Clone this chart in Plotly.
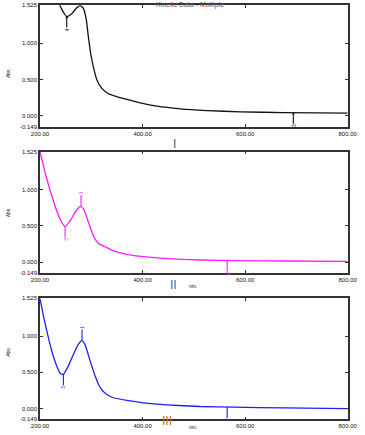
import plotly.graph_objects as go

# ---------------- data ----------------
wl_I = [225, 232, 239.1, 245.6, 252.1, 261.9, 271.7, 278.2, 284.8, 290, 294.5, 299.1, 304.3,
        310.8, 320.6, 333.6, 346.6, 369.4, 395.5, 428.1, 473.7, 525.8, 591, 675.6, 800]
abs_I = [1.80, 1.65, 1.52, 1.43, 1.37, 1.41, 1.49, 1.52, 1.48, 1.34, 1.08, 0.85, 0.67,
         0.50, 0.38, 0.306, 0.273, 0.227, 0.18, 0.134, 0.097, 0.074, 0.056, 0.046, 0.037]

wl_II = [200, 206.5, 213, 222.8, 232.6, 242.4, 248.9, 258.7, 268.5, 278.2, 284.8, 294.5, 304.3,
         314.1, 330.3, 343.3, 369.4, 402, 447.6, 512.7, 577.9, 675.6, 800]
abs_II = [1.525, 1.34, 1.155, 0.92, 0.71, 0.55, 0.49, 0.57, 0.69, 0.77, 0.735, 0.55, 0.36,
          0.256, 0.20, 0.154, 0.107, 0.074, 0.047, 0.028, 0.019, 0.014, 0.010]

wl_III = [200, 206.5, 213, 222.8, 232.6, 240.4, 245.6, 255.4, 265.2, 275, 281.4, 288, 297.7,
          307.5, 317.3, 330.3, 343.3, 369.4, 402, 447.6, 512.7, 577.9, 675.6, 800]
abs_III = [1.52, 1.29, 1.08, 0.80, 0.59, 0.48, 0.474, 0.59, 0.75, 0.89, 0.94, 0.88, 0.66,
           0.45, 0.29, 0.195, 0.149, 0.112, 0.079, 0.051, 0.028, 0.019, 0.009, 0.0]

# peak / valley picks: (wavelength, absorbance, label, direction)
peaks_I = [(252.1, 1.37, "4", "down"), (694, 0.045, "3", "down")]
peaks_II = [(280, 0.77, "1", "up"), (248.9, 0.49, "3", "down"), (565, 0.02, "2", "down")]
peaks_III = [(282, 0.94, "1", "up"), (245.6, 0.474, "3", "down"), (565, 0.022, "2", "down")]

x_ticks = [200, 400, 600, 800]
x_ticktext = ["200.00", "400.00", "600.00", "800.00"]
y_ticks = [-0.149, 0.0, 0.5, 1.0, 1.525]
y_ticktext = ["-0.149", "0.000", "0.500", "1.000", "1.525"]

panel_names = ["I", "II", "III"]
panel_name_colors = ["#1f6fb4", "#1f6fb4", "#b8741a"]
colors = ["#111111", "#ff1aff", "#1e1eff"]

W, H = 365, 435
FONT = "Liberation Sans, Arial, sans-serif"

def py(p):
    return 1 - p / H

domains = [(py(126.7), py(5.3)), (py(272.8), py(151.7)), (py(419.3), py(298.3))]
xdom = [40 / W, 347.7 / W]

fig = go.Figure()
series = [(wl_I, abs_I), (wl_II, abs_II), (wl_III, abs_III)]
peaks = [peaks_I, peaks_II, peaks_III]

annotations = []
for i, ((wx, wy), col) in enumerate(zip(series, colors)):
    sfx = "" if i == 0 else str(i + 1)
    fig.add_trace(go.Scatter(x=wx, y=wy, mode="lines", line=dict(color=col, width=1.3, shape="spline", smoothing=0.5),
                             xaxis="x" + sfx, yaxis="y" + sfx, showlegend=False, hoverinfo="skip"))
    for (px_, pv, lab, d) in peaks[i]:
        annotations.append(dict(x=px_, y=pv, xref="x" + sfx, yref="y" + sfx, text=lab,
                                textangle=-90, showarrow=True, arrowhead=1 if (i == 0) else 0,
                                arrowsize=0.5, arrowwidth=1.1, arrowcolor=col, ax=0,
                                ay=(-13 if d == "up" else 13), borderpad=0,
                                font=dict(size=5, color=col, family=FONT)))

    axis_common = dict(showline=True, linecolor="#333333", linewidth=1.5, mirror="ticks",
                       ticks="inside", ticklen=3, tickcolor="#333333", showgrid=False, zeroline=False,
                       automargin=False, tickfont=dict(size=6, color="#111111", family=FONT))
    fig.update_layout(**{
        "xaxis" + sfx: dict(domain=xdom, range=[200, 800], tickvals=x_ticks, ticktext=x_ticktext,
                            anchor="y" + sfx, **axis_common),
        "yaxis" + sfx: dict(domain=list(domains[i]), range=[-0.149, 1.525], tickvals=y_ticks,
                            ticktext=y_ticktext, anchor="x" + sfx, **axis_common),
    })
    mid = (domains[i][0] + domains[i][1]) / 2
    annotations.append(dict(x=3 / W, y=mid, xref="paper", yref="paper", text="Abs.", textangle=-90,
                            showarrow=False, font=dict(size=5, color="#111111", family=FONT)))

# panel labels
label_pos = [(174, 135), (173, 284.5), (167, 429.5)]
for (lx, ly), name, c in zip(label_pos, panel_names, panel_name_colors):
    annotations.append(dict(x=lx / W, y=py(ly), xref="paper", yref="paper", text=name, showarrow=False,
                            font=dict(size=12, color=c, family=FONT)))
for ny in [285.5, 431.5]:
    annotations.append(dict(x=193 / W, y=py(ny), xref="paper", yref="paper", text="nm.", showarrow=False,
                            font=dict(size=5, color="#111111", family=FONT)))
annotations.append(dict(x=190 / W, y=py(-1), xref="paper", yref="paper", text="Kinetic Data - Multiple",
                        showarrow=False, font=dict(size=7, color="#555566", family=FONT)))

fig.update_layout(width=W, height=H, margin=dict(l=0, r=0, t=0, b=0),
                  paper_bgcolor="white", plot_bgcolor="white", annotations=annotations,
                  showlegend=False)

fig.write_html("out.html", config={"displayModeBar": False})

# remove the default page margin so the figure sits at the window's top-left corner
with open("out.html", "r", encoding="utf-8") as f:
    html = f.read()
html = html.replace("<body>", '<body style="margin:0;padding:0;overflow:hidden">', 1)
with open("out.html", "w", encoding="utf-8") as f:
    f.write(html)
